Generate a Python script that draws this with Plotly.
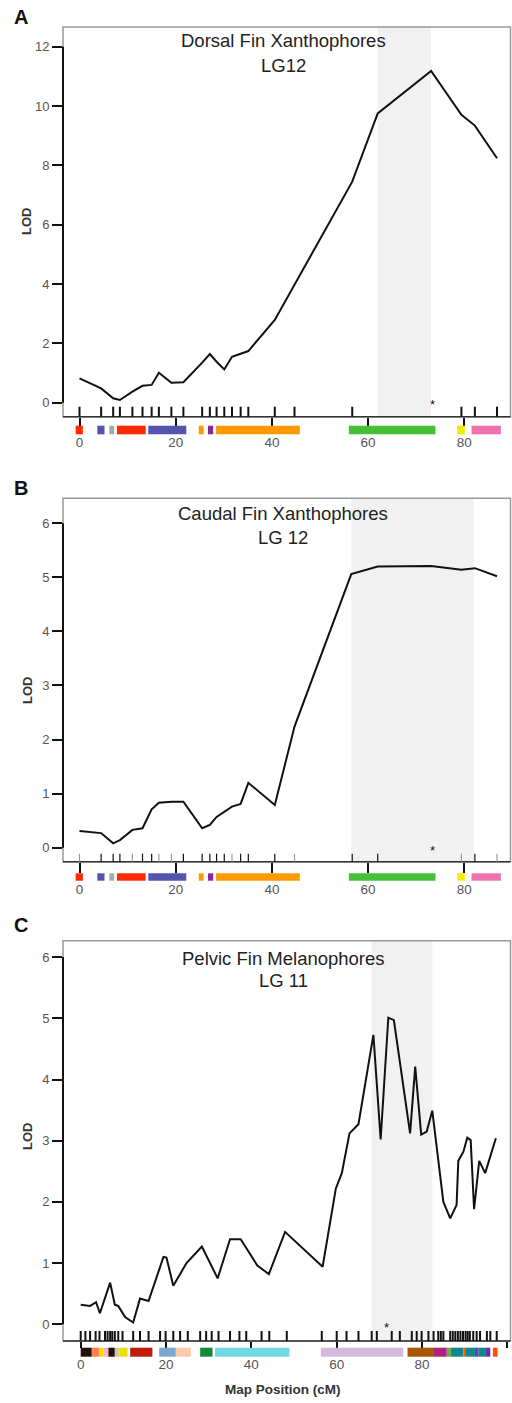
import plotly.graph_objects as go

W, H = 512, 1403
FONT = "Liberation Sans, Arial, Helvetica, sans-serif"

# ---------------- data ----------------
# Panel A: Dorsal fin xanthophores, LG12
A_POS = [0, 4.5, 7.0, 8.4, 11.0, 13.1, 15.0, 16.5, 19.1, 21.6, 25.5, 27.1, 28.5, 30.1,
         31.7, 33.5, 35.1, 40.6, 44.7, 56.7, 62.0, 73.1, 79.4, 82.2, 86.8]
A_LOD = [0.82, 0.48, 0.15, 0.09, 0.37, 0.57, 0.60, 1.01, 0.67, 0.69, 1.35, 1.64, 1.38, 1.12,
         1.55, 1.64, 1.74, 2.79, 3.97, 7.45, 9.75, 11.18, 9.70, 9.34, 8.24]
A_MARKERS = [0, 4.5, 7.0, 8.4, 11.0, 13.1, 15.0, 16.5, 19.1, 21.6, 25.5, 27.1, 28.5, 30.1,
             31.7, 33.5, 35.1, 40.6, 44.7, 56.7, 79.4, 82.2, 86.8]
A_SHADE = [62.0, 73.1]
A_STAR = 73.3
A_TITLE = ["Dorsal Fin Xanthophores", "LG12"]
A_YTICKS = [0, 2, 4, 6, 8, 10, 12]

# Panel B: Caudal fin xanthophores, LG 12
B_POS = [0, 4.5, 7.0, 8.4, 11.0, 13.1, 15.0, 16.5, 19.1, 21.6, 25.5, 27.1, 28.5, 30.1,
         31.7, 33.5, 35.1, 40.6, 44.7, 56.5, 62.0, 73.1, 79.4, 82.2, 86.8]
B_LOD = [0.31, 0.27, 0.08, 0.14, 0.33, 0.36, 0.71, 0.83, 0.85, 0.85, 0.36, 0.42, 0.57, 0.67,
         0.76, 0.81, 1.20, 0.79, 2.24, 5.06, 5.20, 5.21, 5.14, 5.17, 5.02]
B_MARKERS = [0, 4.5, 7.0, 8.4, 11.0, 13.1, 15.0, 16.5, 19.1, 21.6, 25.5, 27.1, 28.5, 30.1,
             31.7, 33.5, 35.1, 40.6, 44.7, 56.7, 62.0, 79.4, 82.2, 86.8]
B_MARKER_LIGHT = [0, 11.0, 16.5, 19.1, 31.7, 44.7, 79.4, 86.8]
B_SHADE = [56.5, 82.0]
B_STAR = 73.3
B_TITLE = ["Caudal Fin Xanthophores", "LG 12"]
B_YTICKS = [0, 1, 2, 3, 4, 5, 6]

AB_XTICKS = [0, 20, 40, 60, 80]
AB_BARS = [(-0.8, 0.7, "#ff2a00"), (3.7, 5.2, "#5555b0"), (6.2, 7.2, "#a8a8a8"),
           (7.8, 13.75, "#ff2a00"), (14.3, 22.2, "#5555b0"), (24.8, 25.8, "#ff9900"),
           (26.7, 27.8, "#8a2a9a"), (28.4, 45.8, "#ff9900"), (56.0, 74.0, "#44c038"),
           (78.5, 80.1, "#f2ee00"), (81.5, 87.6, "#f070b0")]

# Panel C: Pelvic fin melanophores, LG 11
C_POS = [0, 2.2, 3.6, 4.5, 6.9, 8.0, 8.8, 10.4, 12.3, 13.9, 15.9, 19.4, 20.1, 21.7,
         24.8, 28.4, 32.1, 35.0, 37.5, 41.4, 44.1, 47.9, 56.7, 59.8, 61.2, 63.0, 65.1,
         68.6, 70.3, 72.1, 73.4, 77.2, 78.4, 79.8, 81.1, 82.4, 85.0, 86.6, 88.1, 88.5,
         89.7, 90.6, 91.4, 92.2, 93.4, 94.8, 97.3]
C_LOD = [0.32, 0.30, 0.36, 0.18, 0.68, 0.32, 0.30, 0.12, 0.03, 0.42, 0.38, 1.10, 1.09, 0.63,
         1.00, 1.27, 0.75, 1.39, 1.39, 0.96, 0.82, 1.51, 0.94, 2.22, 2.47, 3.12, 3.27,
         4.73, 3.02, 5.01, 4.97, 3.12, 4.21, 3.10, 3.15, 3.49, 2.00, 1.73, 1.95, 2.67,
         2.82, 3.05, 3.01, 1.88, 2.67, 2.47, 3.04]
C_MARKERS = [0, 1.1, 2.2, 3.5, 4.4, 5.7, 6.3, 6.9, 7.4, 8.0, 8.8, 9.8, 12.3, 13.9, 15.9,
             18.6, 19.9, 21.7, 23.3, 25.1, 28.0, 29.4, 30.7, 32.3, 35.0, 37.2, 38.8, 42.4,
             44.2, 48.3, 56.5, 60.0, 62.3, 65.1, 68.2, 69.4, 72.9, 74.8, 77.6, 78.75, 79.9,
             81.5, 82.7, 83.8, 84.4, 85.0, 86.6, 87.2, 87.8, 88.4, 89.0, 89.6, 90.2, 90.7,
             91.2, 92.0, 92.8, 93.6, 95.2, 96.0, 97.5]
C_SHADE = [68.2, 82.4]
C_STAR = 71.7
C_TITLE = ["Pelvic Fin Melanophores", "LG 11"]
C_YTICKS = [0, 1, 2, 3, 4, 5, 6]
C_XTICKS = [0, 20, 40, 60, 80, 100]
C_BARS = [(0, 2.6, "#1e120a"), (2.6, 4.3, "#ff7f50"), (4.3, 5.4, "#e8e000"),
          (5.4, 6.5, "#ffb0c8"), (6.5, 8.0, "#1e120a"), (8.0, 9.1, "#d8c8a0"),
          (9.1, 11.0, "#e8e000"), (11.6, 16.8, "#c01a08"), (18.4, 22.3, "#78a8d0"),
          (22.3, 25.8, "#ffc8a8"), (28.0, 30.9, "#128a3c"), (31.5, 48.9, "#70d8e2"),
          (56.3, 75.6, "#d4b8dc"), (76.6, 82.8, "#a85800"), (82.8, 85.8, "#b02080"),
          (85.8, 86.8, "#6ab04a"), (86.8, 89.7, "#108890"), (89.7, 90.1, "#ff6000"),
          (90.1, 92.4, "#108890"), (92.4, 93.2, "#6a40b0"), (93.2, 94.8, "#108890"),
          (94.8, 96.0, "#6a30a8"), (96.6, 97.7, "#ff5000")]

X_LABEL = "Map Position (cM)"
Y_LABEL = "LOD"

# ---------------- layout geometry (pixels) ----------------
XL, XR = 63.0, 510.5
panels = [
    dict(letter="A", pos=A_POS, lod=A_LOD, markers=A_MARKERS, light=[], bars=AB_BARS,
         shade=A_SHADE, star=A_STAR, title=A_TITLE, yticks=A_YTICKS, xticks=AB_XTICKS,
         top=27.0, bottom=416.7, zero=402.7, unit=29.67, x0=79.5, xunit=4.81,
         ruglen=10, rugw=2, ticklen=8, bar=(425.7, 434.3), t1=40.7, t2=65.7,
         lety=17, stary=404.5, lodc=222),
    dict(letter="B", pos=B_POS, lod=B_LOD, markers=B_MARKERS, light=B_MARKER_LIGHT,
         bars=AB_BARS, shade=B_SHADE, star=B_STAR, title=B_TITLE, yticks=B_YTICKS,
         xticks=AB_XTICKS, top=498.3, bottom=861.7, zero=847.7, unit=54.07, x0=79.5,
         xunit=4.81, ruglen=8, rugw=1.2, ticklen=10, bar=(873.3, 880.7), t1=513.3,
         t2=537.7, lety=488, stary=850, lodc=691),
    dict(letter="C", pos=C_POS, lod=C_LOD, markers=C_MARKERS, light=[], bars=C_BARS,
         shade=C_SHADE, star=C_STAR, title=C_TITLE, yticks=C_YTICKS, xticks=C_XTICKS,
         top=940.7, bottom=1341.0, zero=1324.3, unit=61.2, x0=80.7, xunit=4.2667,
         ruglen=10, rugw=2, ticklen=6, bar=(1347.7, 1356.7), t1=958, t2=980,
         lety=925, stary=1327, lodc=1137),
]


def py(px):
    return 1 - px / H


def pxx(px):
    return px / W


fig = go.Figure()
shapes = []
annotations = []
layout = {}

for i, p in enumerate(panels):
    n = "" if i == 0 else str(i + 1)
    xa, ya = "x" + n, "y" + n
    xr = [(XL - p["x0"]) / p["xunit"], (XR - p["x0"]) / p["xunit"]]
    yr = [(p["zero"] - p["bottom"]) / p["unit"], (p["zero"] - p["top"]) / p["unit"]]
    dom_h = p["bottom"] - p["top"]

    layout["xaxis" + n] = dict(
        domain=[pxx(XL), pxx(XR)], range=xr, anchor=ya, showgrid=False, zeroline=False,
        showline=False, ticks="outside", ticklen=p["ticklen"], tickwidth=1.6,
        tickcolor="#111", tickvals=p["xticks"], ticktext=[str(v) for v in p["xticks"]],
        tickfont=dict(family=FONT, size=13.5, color="#555"), ticklabelstandoff=5,
        fixedrange=True)
    layout["yaxis" + n] = dict(
        domain=[py(p["bottom"]), py(p["top"])], range=yr, anchor=xa, showgrid=False,
        zeroline=False, showline=False, ticks="outside", ticklen=10, tickwidth=1.6,
        tickcolor="#111", tickvals=p["yticks"], ticktext=[str(v) for v in p["yticks"]],
        tickfont=dict(family=FONT, size=13, color="#555"), fixedrange=True)

    # shaded support interval
    shapes.append(dict(type="rect", xref=xa, yref=ya + " domain", x0=p["shade"][0],
                       x1=p["shade"][1], y0=0, y1=1, fillcolor="#f1f1f1",
                       line=dict(width=0), layer="below"))
    # frame
    shapes.append(dict(type="rect", xref=xa + " domain", yref=ya + " domain", x0=0, x1=1,
                       y0=0, y1=1, line=dict(color="#999", width=1.5), layer="above"))
    # baseline
    shapes.append(dict(type="line", xref=xa + " domain", yref=ya + " domain", x0=0, x1=1,
                       y0=0, y1=0, line=dict(color="#333", width=1.6), layer="above"))
    # y axis line from 0 to top tick
    shapes.append(dict(type="line", xref=xa + " domain", yref=ya, x0=0, x1=0,
                       y0=p["yticks"][0], y1=p["yticks"][-1],
                       line=dict(color="#111", width=2), layer="above"))
    # marker rug
    for m in p["markers"]:
        col = "#9a9a9a" if m in p["light"] else "#111"
        shapes.append(dict(type="line", xref=xa, yref=ya + " domain", x0=m, x1=m, y0=0,
                           y1=p["ruglen"] / dom_h, line=dict(color=col, width=p["rugw"]),
                           layer="above"))
    # coloured segments under axis
    for (a, b, c) in p["bars"]:
        shapes.append(dict(type="rect", xref=xa, yref="paper", x0=a, x1=b,
                           y0=py(p["bar"][1]), y1=py(p["bar"][0]), fillcolor=c,
                           line=dict(width=0), layer="above"))

    fig.add_trace(go.Scatter(x=p["pos"], y=p["lod"], mode="lines", xaxis=xa, yaxis=ya,
                             line=dict(color="#111", width=2), showlegend=False,
                             hoverinfo="skip"))

    # titles
    annotations.append(dict(text=p["title"][0], xref="paper", yref="paper", x=pxx(283),
                            y=py(p["t1"]), xanchor="center", yanchor="middle",
                            showarrow=False, font=dict(family=FONT, size=18.5, color="#222")))
    annotations.append(dict(text=p["title"][1], xref="paper", yref="paper", x=pxx(283),
                            y=py(p["t2"]), xanchor="center", yanchor="middle",
                            showarrow=False, font=dict(family=FONT, size=18.5, color="#222")))
    # panel letter
    annotations.append(dict(text="<b>%s</b>" % p["letter"], xref="paper", yref="paper",
                            x=pxx(21), y=py(p["lety"]), xanchor="center", yanchor="middle",
                            showarrow=False, font=dict(family=FONT, size=20, color="#111")))
    # LOD label
    annotations.append(dict(text="<b>%s</b>" % Y_LABEL, xref="paper", yref="paper",
                            x=pxx(27), y=py(p["lodc"]), xanchor="center", yanchor="middle",
                            textangle=-90, showarrow=False,
                            font=dict(family=FONT, size=13, color="#333")))
    # peak star
    annotations.append(dict(text="*", xref=xa, yref="paper", x=p["star"], y=py(p["stary"]),
                            xanchor="center", yanchor="middle", showarrow=False,
                            font=dict(family=FONT, size=13, color="#111")))

annotations.append(dict(text="<b>%s</b>" % X_LABEL, xref="paper", yref="paper",
                        x=pxx(283), y=py(1389.3), xanchor="center", yanchor="middle",
                        showarrow=False, font=dict(family=FONT, size=13.5, color="#333")))

fig.update_layout(
    width=W, height=H, margin=dict(l=0, r=0, t=0, b=0, pad=0),
    paper_bgcolor="white", plot_bgcolor="white", showlegend=False,
    shapes=shapes, annotations=annotations, **layout)

fig.write_html("out.html")
